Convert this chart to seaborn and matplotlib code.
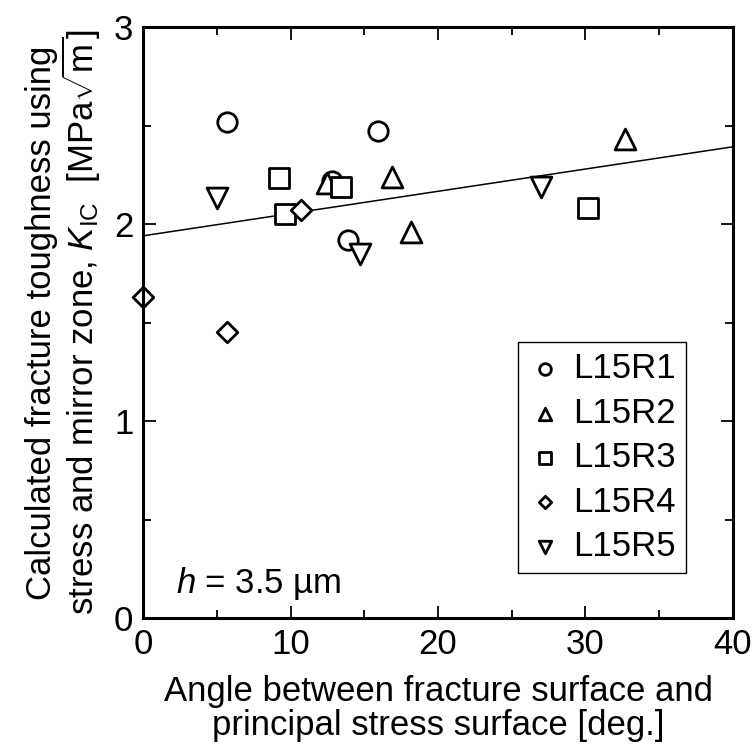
import matplotlib
matplotlib.use("Agg")
import matplotlib.pyplot as plt
from matplotlib.collections import PathCollection
from matplotlib.ticker import MultipleLocator
import pandas as pd
import seaborn as sns

# Measured fracture toughness versus misalignment angle, five specimens
specimens = ["L15R1", "L15R2", "L15R3", "L15R4", "L15R5"]
angle_r1 = [5.7, 15.9, 13.9, 12.8]
kic_r1 = [2.52, 2.47, 1.92, 2.22]
angle_r2 = [12.5, 16.9, 18.2, 32.7]
kic_r2 = [2.21, 2.24, 1.96, 2.43]
angle_r3 = [9.2, 13.4, 9.6, 30.2]
kic_r3 = [2.235, 2.19, 2.05, 2.08]
angle_r4 = [0.0, 5.7, 10.7]
kic_r4 = [1.63, 1.45, 2.07]
angle_r5 = [5.0, 14.7, 27.0]
kic_r5 = [2.13, 1.85, 2.19]

# Linear trend line: K_IC = intercept + slope * angle
fit_intercept = 1.94
fit_slope = 0.0113
fit_angles = [0, 40]

angles = [angle_r1, angle_r2, angle_r3, angle_r4, angle_r5]
values = [kic_r1, kic_r2, kic_r3, kic_r4, kic_r5]
markers = ["o", "^", "s", "D", "v"]
marker_area = [14 ** 2, 15 ** 2, 14 ** 2, 10.5 ** 2, 15 ** 2]

FS = 25

sns.set_theme(style="ticks")
plt.rcParams["font.family"] = ["Liberation Sans", "DejaVu Sans"]
plt.rcParams["mathtext.fontset"] = "custom"
plt.rcParams["mathtext.rm"] = "Liberation Sans"
plt.rcParams["mathtext.it"] = "Liberation Sans:italic"
plt.rcParams["mathtext.default"] = "regular"
for key in ["text.color", "axes.labelcolor", "xtick.color", "ytick.color",
            "axes.edgecolor", "xtick.labelcolor", "ytick.labelcolor"]:
    plt.rcParams[key] = "black"

fig = plt.figure(figsize=(7.53, 7.50), dpi=100)
ax = fig.add_axes([0.190, 0.176, 0.7834, 0.788])

fit_df = pd.DataFrame({"angle": fit_angles,
                       "kic": [fit_intercept + fit_slope * a for a in fit_angles]})
sns.lineplot(data=fit_df, x="angle", y="kic", ax=ax, color="black",
             linewidth=1.1, errorbar=None, legend=False, zorder=2)

for name, xs, ys, mk, area in zip(specimens, angles, values, markers, marker_area):
    df = pd.DataFrame({"angle": xs, "kic": ys})
    sns.scatterplot(data=df, x="angle", y="kic", ax=ax, marker=mk, s=area,
                    color="black", linewidth=2.0, legend=False,
                    clip_on=False, zorder=3)

# open symbols with a white fill so overlapping marks hide each other
points = [c for c in ax.collections if isinstance(c, PathCollection)]
for coll in points:
    coll.set_facecolor("white")
    coll.set_edgecolor("black")

ax.set_xlim(0, 40)
ax.set_ylim(0, 3)
ax.xaxis.set_major_locator(MultipleLocator(10))
ax.xaxis.set_minor_locator(MultipleLocator(5))
ax.yaxis.set_major_locator(MultipleLocator(1))
ax.yaxis.set_minor_locator(MultipleLocator(0.5))
ax.tick_params(which="both", direction="in", top=True, right=True,
               width=1.3, colors="black", labelsize=FS)
ax.tick_params(which="major", length=9, pad=7)
ax.tick_params(which="minor", length=6)
for sp in ax.spines.values():
    sp.set_linewidth(2.2)
    sp.set_color("black")
    sp.set_visible(True)
    sp.set_zorder(4)

ax.set_xlabel("Angle between fracture surface and\nprincipal stress surface [deg.]",
              fontsize=FS, labelpad=10, linespacing=1.05, color="black")
ax.set_ylabel("Calculated fracture toughness using\n"
              r"stress and mirror zone, $\mathit{K}_{\mathrm{IC}}$  [MPa$\sqrt{\mathrm{m}}$]",
              fontsize=FS, labelpad=8, linespacing=1.05, color="black")

leg = ax.legend(points, specimens, loc="lower right", bbox_to_anchor=(0.95, 0.046),
                fontsize=FS, frameon=True, fancybox=False, markerscale=0.6,
                handletextpad=0.3, borderpad=0.3, labelspacing=0.33,
                handlelength=1.0, framealpha=1.0, labelcolor="black")
leg.get_frame().set_edgecolor("black")
leg.get_frame().set_linewidth(1.0)

ax.text(2.2, 0.127, r"$\mathit{h}$ = 3.5 µm", fontsize=FS, ha="left",
        va="baseline", color="black")

fig.savefig("out.png", dpi=100, facecolor="white")
